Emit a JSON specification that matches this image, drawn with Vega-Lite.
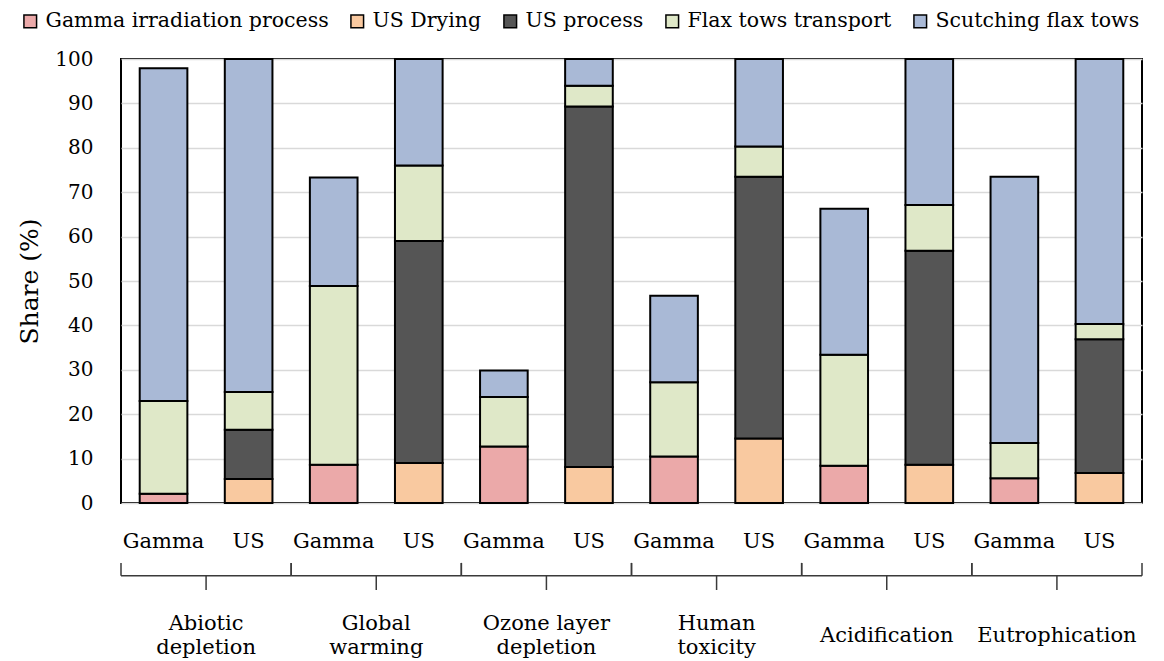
{
  "$schema": "https://vega.github.io/schema/vega-lite/v6.json",
  "autosize": "none",
  "width": 1021,
  "height": 444,
  "padding": {"left": 121, "top": 59, "right": 22, "bottom": 158},
  "background": "white",
  "config": {
    "view": {"stroke": "black", "strokeWidth": 2},
    "font": "DejaVu Serif"
  },
  "data": {
    "values": [
      {"impact": "Abiotic depletion", "method": "Gamma", "process": "Gamma irradiation process", "share": 2.1},
      {"impact": "Abiotic depletion", "method": "Gamma", "process": "Flax tows transport", "share": 20.9},
      {"impact": "Abiotic depletion", "method": "Gamma", "process": "Scutching flax tows", "share": 74.9},
      {"impact": "Abiotic depletion", "method": "US", "process": "US Drying", "share": 5.4},
      {"impact": "Abiotic depletion", "method": "US", "process": "US process", "share": 11.1},
      {"impact": "Abiotic depletion", "method": "US", "process": "Flax tows transport", "share": 8.5},
      {"impact": "Abiotic depletion", "method": "US", "process": "Scutching flax tows", "share": 75.0},
      {"impact": "Global warming", "method": "Gamma", "process": "Gamma irradiation process", "share": 8.6},
      {"impact": "Global warming", "method": "Gamma", "process": "Flax tows transport", "share": 40.3},
      {"impact": "Global warming", "method": "Gamma", "process": "Scutching flax tows", "share": 24.4},
      {"impact": "Global warming", "method": "US", "process": "US Drying", "share": 9.0},
      {"impact": "Global warming", "method": "US", "process": "US process", "share": 50.0},
      {"impact": "Global warming", "method": "US", "process": "Flax tows transport", "share": 17.0},
      {"impact": "Global warming", "method": "US", "process": "Scutching flax tows", "share": 24.0},
      {"impact": "Ozone layer depletion", "method": "Gamma", "process": "Gamma irradiation process", "share": 12.75},
      {"impact": "Ozone layer depletion", "method": "Gamma", "process": "Flax tows transport", "share": 11.1},
      {"impact": "Ozone layer depletion", "method": "Gamma", "process": "Scutching flax tows", "share": 6.0},
      {"impact": "Ozone layer depletion", "method": "US", "process": "US Drying", "share": 8.1},
      {"impact": "Ozone layer depletion", "method": "US", "process": "US process", "share": 81.2},
      {"impact": "Ozone layer depletion", "method": "US", "process": "Flax tows transport", "share": 4.7},
      {"impact": "Ozone layer depletion", "method": "US", "process": "Scutching flax tows", "share": 6.0},
      {"impact": "Human toxicity", "method": "Gamma", "process": "Gamma irradiation process", "share": 10.5},
      {"impact": "Human toxicity", "method": "Gamma", "process": "Flax tows transport", "share": 16.7},
      {"impact": "Human toxicity", "method": "Gamma", "process": "Scutching flax tows", "share": 19.5},
      {"impact": "Human toxicity", "method": "US", "process": "US Drying", "share": 14.55},
      {"impact": "Human toxicity", "method": "US", "process": "US process", "share": 58.95},
      {"impact": "Human toxicity", "method": "US", "process": "Flax tows transport", "share": 6.8},
      {"impact": "Human toxicity", "method": "US", "process": "Scutching flax tows", "share": 19.7},
      {"impact": "Acidification", "method": "Gamma", "process": "Gamma irradiation process", "share": 8.4},
      {"impact": "Acidification", "method": "Gamma", "process": "Flax tows transport", "share": 25.0},
      {"impact": "Acidification", "method": "Gamma", "process": "Scutching flax tows", "share": 32.9},
      {"impact": "Acidification", "method": "US", "process": "US Drying", "share": 8.6},
      {"impact": "Acidification", "method": "US", "process": "US process", "share": 48.2},
      {"impact": "Acidification", "method": "US", "process": "Flax tows transport", "share": 10.3},
      {"impact": "Acidification", "method": "US", "process": "Scutching flax tows", "share": 32.9},
      {"impact": "Eutrophication", "method": "Gamma", "process": "Gamma irradiation process", "share": 5.55},
      {"impact": "Eutrophication", "method": "Gamma", "process": "Flax tows transport", "share": 7.95},
      {"impact": "Eutrophication", "method": "Gamma", "process": "Scutching flax tows", "share": 60.0},
      {"impact": "Eutrophication", "method": "US", "process": "US Drying", "share": 6.75},
      {"impact": "Eutrophication", "method": "US", "process": "US process", "share": 30.15},
      {"impact": "Eutrophication", "method": "US", "process": "Flax tows transport", "share": 3.4},
      {"impact": "Eutrophication", "method": "US", "process": "Scutching flax tows", "share": 59.7}
    ]
  },
  "encoding": {
    "x": {
      "field": "impact",
      "type": "nominal",
      "sort": null,
      "scale": {"paddingInner": 0, "paddingOuter": 0},
      "axis": {
        "title": null,
        "orient": "bottom",
        "domain": false,
        "ticks": false,
        "labelAngle": 0,
        "labelPadding": {"condition": {"test": "datum.label == 'Acidification' || datum.label == 'Eutrophication'", "value": 132}, "value": 120},
        "labelBaseline": "middle",
        "labelFont": "DejaVu Serif",
        "labelFontSize": 21,
        "labelLineHeight": 24,
        "labelColor": "black",
        "labelExpr": "datum.label == 'Ozone layer depletion' ? ['Ozone layer', 'depletion'] : (indexof(datum.label, ' ') > 0 ? split(datum.label, ' ') : datum.label)"
      }
    }
  },
  "layer": [
    {
      "transform": [
        {"calculate": "indexof(['Gamma irradiation process', 'US Drying', 'US process', 'Flax tows transport', 'Scutching flax tows'], datum.process)", "as": "stackOrder"}
      ],
      "mark": {"type": "bar", "stroke": "black", "strokeWidth": 2},
      "encoding": {
        "xOffset": {
          "field": "method",
          "type": "nominal",
          "sort": ["Gamma", "US"],
          "scale": {"paddingInner": 0.44, "paddingOuter": 0.22}
        },
        "y": {
          "field": "share",
          "type": "quantitative",
          "stack": "zero",
          "scale": {"domain": [0, 100], "nice": false},
          "axis": {
            "title": "Share (%)",
            "titleFont": "DejaVu Serif",
            "titleFontSize": 25,
            "titleFontWeight": "normal",
            "titleColor": "black",
            "titlePadding": 12,
            "values": [0, 10, 20, 30, 40, 50, 60, 70, 80, 90, 100],
            "domain": false,
            "ticks": false,
            "labelPadding": 28,
            "labelFont": "DejaVu Serif",
            "labelFontSize": 20,
            "labelColor": "black",
            "gridColor": "#d9d9d9",
            "gridWidth": 1.5
          }
        },
        "color": {
          "field": "process",
          "type": "nominal",
          "scale": {
            "domain": ["Gamma irradiation process", "US Drying", "US process", "Flax tows transport", "Scutching flax tows"],
            "range": ["#eba9a9", "#f9c9a0", "#555555", "#dfe8c8", "#a9b9d6"]
          },
          "legend": {
            "title": null,
            "orient": "none",
            "legendX": -101,
            "legendY": -48,
            "direction": "horizontal",
            "columns": 5,
            "columnPadding": 18,
            "symbolType": "square",
            "symbolSize": 160,
            "symbolStrokeColor": "black",
            "symbolStrokeWidth": 1.5,
            "labelFont": "DejaVu Serif",
            "labelFontSize": 20.5,
            "labelColor": "black",
            "labelOffset": 5,
            "labelLimit": 400
          }
        },
        "order": {"field": "stackOrder", "type": "quantitative"}
      }
    },
    {
      "transform": [{"aggregate": [{"op": "count", "as": "n"}], "groupby": ["impact", "method"]}],
      "mark": {"type": "text", "font": "DejaVu Serif", "fontSize": 21, "color": "black", "baseline": "middle", "align": "center"},
      "encoding": {
        "xOffset": {"field": "method", "type": "nominal", "sort": ["Gamma", "US"]},
        "y": {"datum": -8.8},
        "text": {"field": "method", "type": "nominal"}
      }
    },
    {
      "transform": [{"aggregate": [{"op": "count", "as": "n"}], "groupby": ["impact"]}],
      "mark": {"type": "bar", "fill": null, "fillOpacity": 0, "stroke": "#3a3a3a", "strokeWidth": 1.5},
      "encoding": {
        "y": {"datum": -16.4},
        "y2": {"datum": -16.4}
      }
    },
    {
      "transform": [{"aggregate": [{"op": "count", "as": "n"}], "groupby": ["impact"]}],
      "mark": {"type": "rule", "stroke": "#3a3a3a", "strokeWidth": 1.5},
      "encoding": {
        "x": {"field": "impact", "type": "nominal", "sort": null, "bandPosition": 0},
        "y": {"datum": -13.5},
        "y2": {"datum": -16.4}
      }
    },
    {
      "transform": [{"aggregate": [{"op": "count", "as": "n"}], "groupby": ["impact"]}],
      "mark": {"type": "rule", "stroke": "#3a3a3a", "strokeWidth": 1.5},
      "encoding": {
        "x": {"field": "impact", "type": "nominal", "sort": null, "bandPosition": 1},
        "y": {"datum": -13.5},
        "y2": {"datum": -16.4}
      }
    },
    {
      "transform": [{"aggregate": [{"op": "count", "as": "n"}], "groupby": ["impact"]}],
      "mark": {"type": "rule", "stroke": "#3a3a3a", "strokeWidth": 1.5},
      "encoding": {
        "x": {"field": "impact", "type": "nominal", "sort": null, "bandPosition": 0.5},
        "y": {"datum": -16.4},
        "y2": {"datum": -19.6}
      }
    }
  ]
}
